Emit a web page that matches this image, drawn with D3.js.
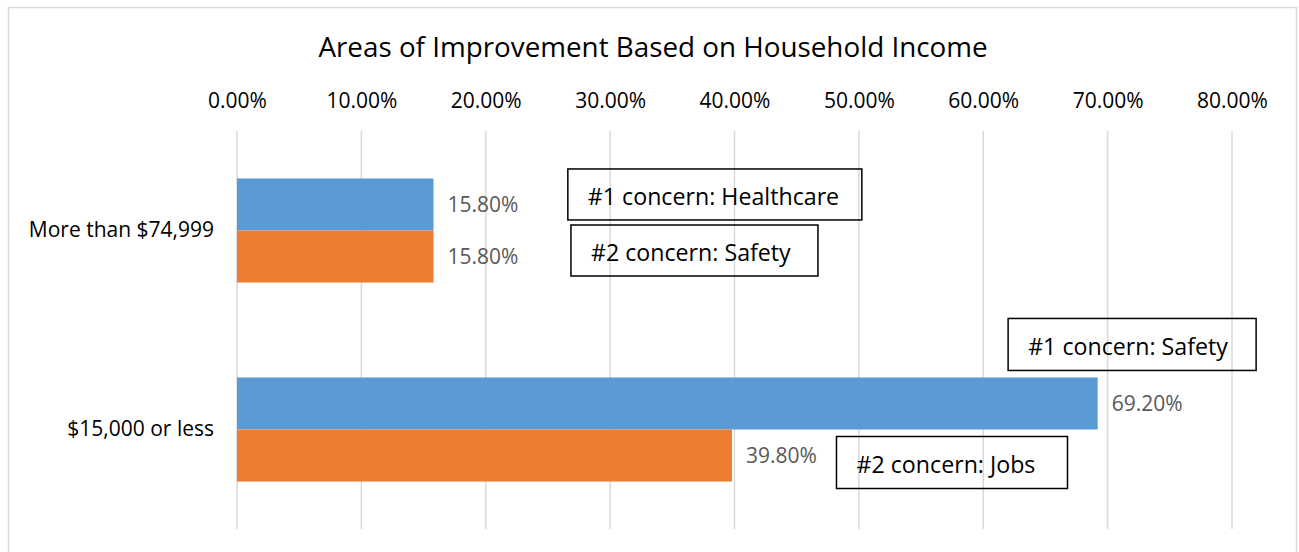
<!DOCTYPE html>
<html>
<head>
<meta charset="utf-8">
<script src="https://cdn.jsdelivr.net/npm/d3@7"></script>
<style>
  body { margin: 0; background: #fff; }
  svg { display: block; font-family: "Open Sans", sans-serif; }
</style>
</head>
<body>
<div id="chart"></div>
<script>
// data
const categories = ['More than $74,999', '$15,000 or less'];
const seriesNames = ['#1 concern', '#2 concern'];
const firstConcern = [15.8, 69.2];
const secondConcern = [15.8, 39.8];
const xTicks = [0, 10, 20, 30, 40, 50, 60, 70, 80];
const notes = ['#1 concern: Healthcare', '#2 concern: Safety', '#1 concern: Safety', '#2 concern: Jobs'];

const width = 1299;
const height = 552;
const colors = ['#5B9BD5', '#ED7D31'];

const svg = d3.select('#chart')
  .append('svg')
  .attr('width', width)
  .attr('height', height);

// chart frame
svg.append('rect')
  .attr('x', 8.5).attr('y', 7.5)
  .attr('width', 1288).attr('height', 560)
  .attr('fill', '#fff')
  .attr('stroke', '#d9d9d9')
  .attr('stroke-width', 1.5);

svg.append('text')
  .attr('x', 653).attr('y', 56.5)
  .attr('text-anchor', 'middle')
  .attr('font-size', 27.8)
  .attr('fill', '#000')
  .text('Areas of Improvement Based on Household Income');

const x = d3.scaleLinear().domain([0, 80]).range([237, 1232]);
const y0 = d3.scaleBand().domain(categories).range([131, 529])
  .paddingInner(0.477).paddingOuter(0.2385);
const y1 = d3.scaleBand().domain(seriesNames).range([0, y0.bandwidth()]);

// gridlines
svg.append('g')
  .selectAll('line')
  .data(xTicks)
  .join('line')
  .attr('x1', d => x(d)).attr('x2', d => x(d))
  .attr('y1', 131).attr('y2', 529)
  .attr('stroke', '#d9d9d9')
  .attr('stroke-width', 1.5);

// top axis labels
const xAxis = d3.axisTop(x)
  .tickValues(xTicks)
  .tickSize(0)
  .tickPadding(0)
  .tickFormat(d => d.toFixed(2) + '%');

svg.append('g')
  .attr('transform', 'translate(0,107.5)')
  .call(xAxis)
  .call(g => g.select('.domain').remove())
  .call(g => g.selectAll('text')
    .attr('font-family', '"Open Sans", sans-serif')
    .attr('font-size', 21)
    .attr('fill', '#000')
    .attr('dy', 0));

// category labels
const yAxis = d3.axisLeft(y0).tickSize(0).tickPadding(0);
svg.append('g')
  .attr('transform', 'translate(214,0)')
  .call(yAxis)
  .call(g => g.select('.domain').remove())
  .call(g => g.selectAll('text')
    .attr('font-family', '"Open Sans", sans-serif')
    .attr('font-size', 21)
    .attr('fill', '#000'));

// bars
const rows = categories.map((c, i) => ({
  category: c,
  values: [
    { series: seriesNames[0], value: firstConcern[i], color: colors[0] },
    { series: seriesNames[1], value: secondConcern[i], color: colors[1] }
  ]
}));

const groups = svg.append('g')
  .selectAll('g')
  .data(rows)
  .join('g')
  .attr('transform', d => `translate(0,${y0(d.category)})`);

groups.selectAll('rect')
  .data(d => d.values)
  .join('rect')
  .attr('x', x(0))
  .attr('y', d => y1(d.series))
  .attr('width', d => x(d.value) - x(0))
  .attr('height', y1.bandwidth())
  .attr('fill', d => d.color);

groups.selectAll('text')
  .data(d => d.values)
  .join('text')
  .attr('x', d => x(d.value) + 14)
  .attr('y', d => y1(d.series) + y1.bandwidth() / 2)
  .attr('dy', '0.35em')
  .attr('font-size', 21)
  .attr('fill', '#595959')
  .text(d => d.value.toFixed(2) + '%');

// callout boxes, placed on the chart's value / category scales
const noteLayout = [
  { at: 26.6, cat: 0, series: 0, dy: -9.5, w: 294, h: 51 },
  { at: 26.85, cat: 0, series: 1, dy: -5.5, w: 247, h: 51 },
  { at: 62.0, cat: 1, series: 0, dy: -59, w: 248, h: 52 },
  { at: 48.2, cat: 1, series: 1, dy: 7, w: 231, h: 52 }
];

const noteG = svg.append('g')
  .selectAll('g')
  .data(notes.map((t, i) => Object.assign({ text: t }, noteLayout[i])))
  .join('g')
  .attr('transform', d => {
    const top = y0(categories[d.cat]) + y1(seriesNames[d.series]) + d.dy;
    return `translate(${x(d.at)},${top})`;
  });

noteG.append('rect')
  .attr('width', d => d.w)
  .attr('height', d => d.h)
  .attr('fill', 'none')
  .attr('stroke', '#000')
  .attr('stroke-width', 1.5);

noteG.append('text')
  .attr('x', 20)
  .attr('y', d => d.h / 2 + 2)
  .attr('dy', '0.35em')
  .attr('font-size', 23.2)
  .attr('fill', '#000')
  .text(d => d.text);
</script>
</body>
</html>
